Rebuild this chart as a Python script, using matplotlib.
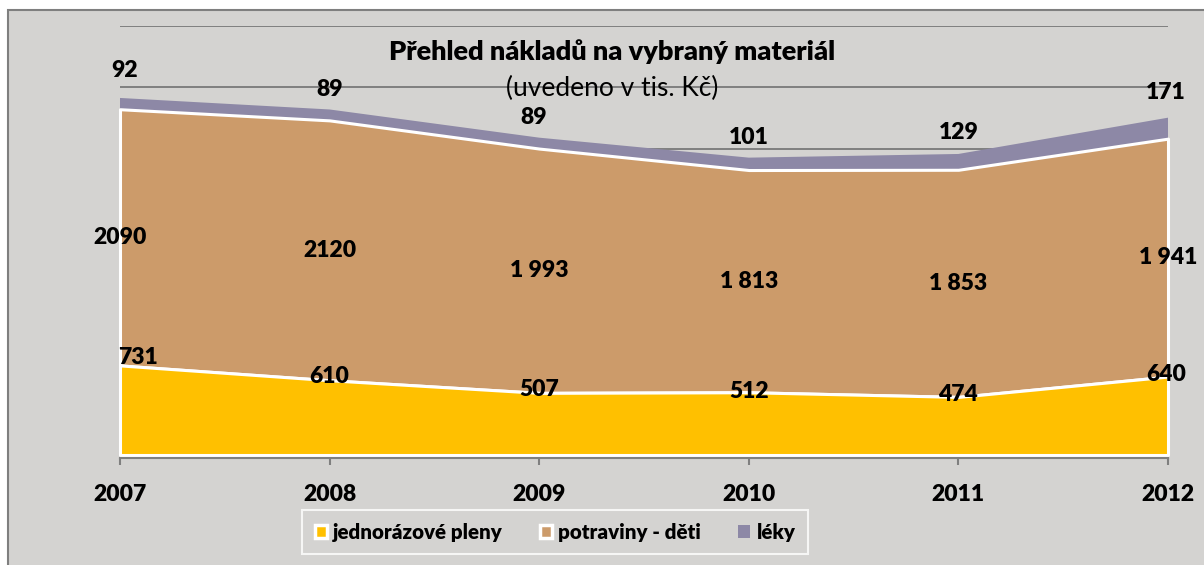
import matplotlib
matplotlib.use("Agg")
import matplotlib.pyplot as plt
from matplotlib.patches import Patch, Rectangle
import numpy as np

years = [2007, 2008, 2009, 2010, 2011, 2012]
pleny = [731, 610, 507, 512, 474, 640]
potraviny = [2090, 2120, 1993, 1813, 1853, 1941]
leky = [92, 89, 89, 101, 129, 171]
pleny_labels = ["731", "610", "507", "512", "474", "640"]
potraviny_labels = ["2090", "2120", "1 993", "1 813", "1 853", "1 941"]
leky_labels = ["92", "89", "89", "101", "129", "171"]
series_names = ["jednorázové pleny", "potraviny - děti", "léky"]
title = "Přehled nákladů na vybraný materiál"
subtitle = "(uvedeno v tis. Kč)"

BG = "#d4d3d1"
C_YEL = "#ffc000"
C_BRN = "#cc9b6a"
C_PUR = "#8d88a6"

FONT = ["Lato", "DejaVu Sans"]
plt.rcParams["font.family"] = FONT
WT = "heavy"

W, H = 1204, 565
fig = plt.figure(figsize=(W / 100, H / 100), dpi=100)
fig.patch.set_facecolor("white")
# chart area background with border
bgrect = Rectangle((8 / W, -0.05), 1.1, (H - 10) / H + 0.05,
                   transform=fig.transFigure, facecolor=BG,
                   edgecolor="#7f7f7f", linewidth=1.5, zorder=-10)
fig.patches.append(bgrect)

ax = fig.add_axes([120 / W, (H - 455) / H, (1168 - 120) / W, (455 - 26) / H])
ax.set_zorder(1)
ax.set_facecolor("none")
ax.set_xlim(years[0], years[-1])
ax.set_ylim(0, 3500)

x = np.array(years, dtype=float)
y1 = np.array(pleny, dtype=float)
y2 = y1 + np.array(potraviny, dtype=float)
y3 = y2 + np.array(leky, dtype=float)

ax.fill_between(x, y2, y3, facecolor=C_PUR, edgecolor="none", zorder=2, clip_on=False)
ax.fill_between(x, y1, y2, facecolor=C_BRN, edgecolor="white", linewidth=2.2, zorder=3, clip_on=False)
ax.fill_between(x, 0, y1, facecolor=C_YEL, edgecolor="white", linewidth=2.2, zorder=4, clip_on=False)

ax.set_yticks(np.arange(0, 3501, 500))
ax.yaxis.grid(True, color="#7f7f7f", linewidth=1.4, zorder=1)
ax.set_axisbelow(True)
ax.tick_params(axis="y", left=False, labelleft=False)
for s in ["left", "right", "top"]:
    ax.spines[s].set_visible(False)
ax.spines["bottom"].set_position(("outward", 2))
ax.spines["bottom"].set_color("#7f7f7f")
ax.spines["bottom"].set_linewidth(1.5)
ax.spines["bottom"].set_zorder(5)
ax.set_xticks(years)
ax.set_xticklabels([str(y) for y in years], fontsize=16.5, fontweight=WT)
ax.tick_params(axis="x", direction="out", length=5, width=1.5, color="#7f7f7f", pad=14)

lbl = dict(fontsize=16.5, fontweight=WT, ha="center", va="center", zorder=10, color="black")
pleny_dx = [18, 0, 0, 0, 0, -2]
pleny_dy = [8, 4, 3, 1, 2, 2]
leky_dx = [5, 0, -6, 0, 0, -2]
leky_dy = [27, 20, 20, 20, 21, 25]
for i, xv in enumerate(years):
    ax.annotate(pleny_labels[i], (xv, y1[i]), xytext=(pleny_dx[i], pleny_dy[i]),
                textcoords="offset pixels", annotation_clip=False, **lbl)
    ax.text(xv, (y1[i] + y2[i]) / 2, potraviny_labels[i], **lbl)
    ax.annotate(leky_labels[i], (xv, y3[i]), xytext=(leky_dx[i], leky_dy[i]),
                textcoords="offset pixels", annotation_clip=False, **lbl)

fig.text(612 / W, 1 - 52 / H, title, ha="center", va="center", fontsize=19.5, fontweight=WT, zorder=20)
fig.text(612 / W, 1 - 88 / H, subtitle, ha="center", va="center", fontsize=19, zorder=20)

handles = [Patch(facecolor=C_YEL, edgecolor="white", linewidth=2.5),
           Patch(facecolor=C_BRN, edgecolor="white", linewidth=2.5),
           Patch(facecolor=C_PUR, edgecolor="none")]
leg = fig.legend(handles, series_names, loc="center", bbox_to_anchor=(555 / W, 1 - 532 / H),
                 ncol=3, frameon=True, fancybox=False, handlelength=0.6, handleheight=0.6,
                 handletextpad=0.3, columnspacing=1.8, borderpad=0.6,
                 prop={"family": FONT, "size": 14.8, "weight": WT})
leg.get_frame().set_facecolor(BG)
leg.get_frame().set_edgecolor("white")
leg.get_frame().set_linewidth(1.5)
leg.set_zorder(20)

fig.savefig("out.png", dpi=100, facecolor=fig.get_facecolor())
